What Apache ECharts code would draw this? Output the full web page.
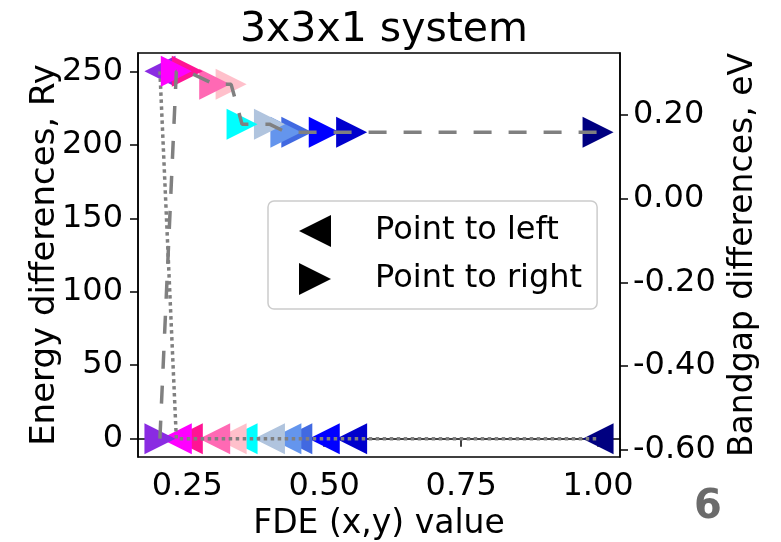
<!DOCTYPE html>
<html>
<head>
<meta charset="utf-8">
<script src="https://cdn.jsdelivr.net/npm/echarts@6/dist/echarts.min.js"></script>
<style>
  html, body { margin: 0; padding: 0; background: #ffffff; }
  #chart { width: 781px; height: 542px; }
</style>
</head>
<body>
<div id="chart"></div>
<script>
// FDE (x,y) values and the two measured differences at each value
const fdeValues = [0.2, 0.23, 0.25, 0.3, 0.33, 0.35, 0.4, 0.43, 0.45, 0.5, 0.55, 1.0];
const energyDiffRy = [250, 0, 0, 0, 0, 0, 0, 0, 0, 0, 0, 0];
const bandgapDiffEv = [-0.573, 0.303, 0.303, 0.272, 0.272, 0.177, 0.177, 0.158, 0.158, 0.158, 0.158, 0.158];
const pointColors = ['#8A2BE2', '#FF00FF', '#FF1493', '#FF69B4', '#FFC0CB', '#00FFFF',
                     '#B0C4DE', '#6495ED', '#4169E1', '#0000FF', '#0000CD', '#000080'];

// tick labels
const xTicks = [0.25, 0.5, 0.75, 1.0];
const energyTicks = [0, 50, 100, 150, 200, 250];
const bandgapTicks = [-0.6, -0.4, -0.2, 0.0, 0.2];

const FONT = 'DejaVu Sans';

// 5% padding around the data range on each axis
function padded(values) {
  const lo = Math.min(...values), hi = Math.max(...values);
  const m = (hi - lo) * 0.05;
  return [lo - m, hi + m];
}
const xRange = padded(fdeValues);
const eRange = padded(energyDiffRy);
const bRange = padded(bandgapDiffEv);

// earlier points are painted over later ones, so feed them last
function markerData(ys) {
  const out = fdeValues.map((x, i) => ({ value: [x, ys[i]], itemStyle: { color: pointColors[i], opacity: 1 } }));
  return out.reverse();
}
function lineData(ys) {
  return fdeValues.map((x, i) => [x, ys[i]]);
}

const axisLineStyle = { show: true, lineStyle: { color: '#000', width: 1.5 } };
const tickStyle = { show: true, length: 8, lineStyle: { color: '#000', width: 1.5 } };
const labelStyle = { color: '#000', fontSize: 32, fontFamily: FONT };

const chart = echarts.init(document.getElementById('chart'), null, { renderer: 'canvas' });
chart.setOption({
  animation: false,
  backgroundColor: '#ffffff',
  title: {
    text: '3x3x1 system',
    left: 379,
    top: 5,
    textAlign: 'center',
    textStyle: { color: '#000', fontSize: 41, fontWeight: 'normal', fontFamily: FONT }
  },
  grid: {
    show: true,
    left: 138,
    top: 53,
    width: 482,
    height: 404,
    containLabel: false,
    outerBoundsMode: 'none',
    borderColor: '#000',
    borderWidth: 1.5,
    backgroundColor: 'transparent'
  },
  legend: {
    orient: 'vertical',
    left: 268,
    top: 201,
    padding: [14, 15, 14, 31],
    itemGap: 16,
    itemWidth: 32,
    itemHeight: 32,
    backgroundColor: 'rgba(255,255,255,0.8)',
    borderColor: '#cccccc',
    borderWidth: 1.5,
    borderRadius: 6,
    textStyle: { color: '#000', fontSize: 32, fontFamily: FONT, lineHeight: 32, padding: [0, 0, 0, 39] },
    data: [
      { name: 'Point to left', icon: 'path://M0,5L10,0L10,10Z', itemStyle: { color: '#000', opacity: 1 } },
      { name: 'Point to right', icon: 'path://M0,0L10,5L0,10Z', itemStyle: { color: '#000', opacity: 1 } }
    ]
  },
  xAxis: {
    type: 'value',
    min: xRange[0],
    max: xRange[1],
    name: 'FDE (x,y) value',
    nameLocation: 'middle',
    nameGap: 50,
    nameTextStyle: { color: '#000', fontSize: 33, fontFamily: FONT },
    axisLine: axisLineStyle,
    axisTick: Object.assign({ customValues: xTicks }, tickStyle),
    axisLabel: Object.assign({ customValues: xTicks, margin: 14, formatter: v => v.toFixed(2) }, labelStyle),
    splitLine: { show: false }
  },
  yAxis: [
    {
      type: 'value',
      position: 'left',
      min: eRange[0],
      max: eRange[1],
      name: 'Energy differences, Ry',
      nameLocation: 'middle',
      nameRotate: 90,
      nameGap: 76,
      nameMoveOverlap: false,
      nameTextStyle: { color: '#000', fontSize: 34, fontFamily: FONT },
      axisLine: axisLineStyle,
      axisTick: Object.assign({ customValues: energyTicks }, tickStyle),
      axisLabel: Object.assign({ customValues: energyTicks, margin: 15, formatter: v => String(Math.round(v)) }, labelStyle),
      splitLine: { show: false }
    },
    {
      type: 'value',
      position: 'right',
      min: bRange[0],
      max: bRange[1],
      name: 'Bandgap differences, eV',
      nameLocation: 'middle',
      nameRotate: 90,
      nameGap: 107,
      nameTextStyle: { color: '#000', fontSize: 33, fontFamily: FONT },
      axisLine: axisLineStyle,
      axisTick: Object.assign({ customValues: bandgapTicks }, tickStyle),
      axisLabel: Object.assign({ customValues: bandgapTicks, margin: 13, formatter: v => v.toFixed(2) }, labelStyle),
      splitLine: { show: false }
    }
  ],
  series: [
    {
      name: 'Point to left',
      type: 'scatter',
      yAxisIndex: 0,
      symbol: 'triangle',
      symbolRotate: 90,
      symbolSize: 31,
      z: 2,
      itemStyle: { opacity: 1 },
      data: markerData(energyDiffRy)
    },
    {
      name: 'energy trend',
      type: 'line',
      yAxisIndex: 0,
      symbol: 'none',
      z: 3,
      lineStyle: { color: '#808080', width: 3.5, type: [3.5, 3.5], cap: 'butt' },
      data: lineData(energyDiffRy)
    },
    {
      name: 'Point to right',
      type: 'scatter',
      yAxisIndex: 1,
      symbol: 'triangle',
      symbolRotate: -90,
      symbolSize: 31,
      z: 4,
      itemStyle: { opacity: 1 },
      data: markerData(bandgapDiffEv)
    },
    {
      name: 'bandgap trend',
      type: 'line',
      yAxisIndex: 1,
      symbol: 'none',
      z: 5,
      lineStyle: { color: '#808080', width: 3.5, type: [18, 17], cap: 'butt' },
      data: lineData(bandgapDiffEv)
    }
  ],
  graphic: [
    {
      type: 'text',
      left: 694,
      top: 488,
      style: { text: '6', fill: '#6b6b6b', fontSize: 40, fontWeight: 'bold', fontFamily: FONT }
    }
  ]
});
</script>
</body>
</html>
